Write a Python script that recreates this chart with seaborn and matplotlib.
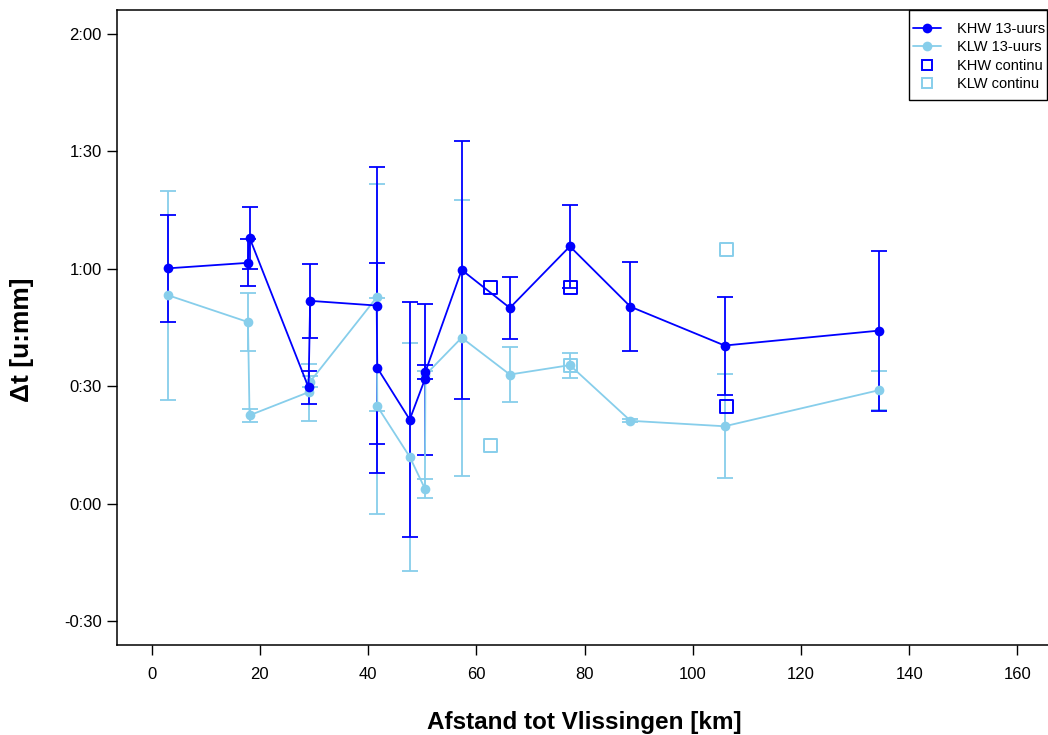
import matplotlib
matplotlib.use("Agg")
import matplotlib.pyplot as plt
from matplotlib import font_manager
from matplotlib.lines import Line2D
from matplotlib.patches import Rectangle
import seaborn as sns
import pandas as pd

# ---------------- data (minutes, km) ----------------
afstand = [3.1, 17.8, 18.1, 29.0, 29.3, 41.6, 41.7, 47.7, 50.5, 50.6,
           57.3, 66.2, 77.3, 88.5, 105.9, 134.4]
khw_13 = [60.1, 61.5, 67.9, 29.7, 51.8, 50.6, 34.7, 21.5, 31.8, 33.7,
          59.7, 50.0, 65.7, 50.3, 40.4, 44.2]
khw_13_err = [13.6, 6.0, 7.9, 4.3, 9.5, 35.3, 26.8, 30.0, 19.3, 1.8,
              33.0, 8.0, 10.6, 11.4, 12.5, 20.4]
klw_13 = [53.2, 46.4, 22.6, 28.5, 31.2, 52.7, 24.9, 12.0, 3.9, 32.9,
          42.4, 33.0, 35.4, 21.2, 19.8, 29.0]
klw_13_err = [26.6, 7.4, 1.7, 7.3, 1.5, 29.0, 27.5, 29.0, 2.5, 1.0,
              35.2, 6.9, 3.2, 0.4, 13.3, 5.0]

afstand_continu = [62.7, 77.4, 106.3]
khw_continu = [55.1, 55.1, 24.8]
klw_continu = [14.9, 35.3, 65.0]

y_ticks = [-30, 0, 30, 60, 90, 120]
x_ticks = [0, 20, 40, 60, 80, 100, 120, 140, 160]
legend_labels = ["KHW 13-uurs", "KLW 13-uurs", "KHW continu", "KLW continu"]

DARK = "#0000FF"
LIGHT = "#87CEEB"

# ---------------- style ----------------
sns.set_style("ticks")
avail = {f.name for f in font_manager.fontManager.ttflist}
base_font = "Liberation Sans" if "Liberation Sans" in avail else "DejaVu Sans"
plt.rcParams["font.family"] = [base_font, "DejaVu Sans"]
plt.rcParams.update({"text.color": "black", "axes.labelcolor": "black",
                     "xtick.color": "black", "ytick.color": "black",
                     "axes.edgecolor": "black"})

W, H = 1048, 735
fig = plt.figure(figsize=(W / 100, H / 100), dpi=100)
ax_left, ax_right, ax_top, ax_bottom = 117, 1052, 10, 645
ax = fig.add_axes([ax_left / W, 1 - ax_bottom / H,
                   (ax_right - ax_left) / W, (ax_bottom - ax_top) / H])

df13 = pd.DataFrame({"afstand": afstand, "KHW": khw_13, "KHW_err": khw_13_err,
                     "KLW": klw_13, "KLW_err": klw_13_err})
dfc = pd.DataFrame({"afstand": afstand_continu, "KHW": khw_continu, "KLW": klw_continu})

# error bars
ax.errorbar(df13["afstand"], df13["KLW"], yerr=df13["KLW_err"], fmt="none",
            ecolor=LIGHT, elinewidth=1.3, capsize=5.5, capthick=1.3, zorder=2)
ax.errorbar(df13["afstand"], df13["KHW"], yerr=df13["KHW_err"], fmt="none",
            ecolor=DARK, elinewidth=1.3, capsize=5.5, capthick=1.3, zorder=3)

# lines with points
sns.lineplot(data=df13, x="afstand", y="KLW", sort=False, estimator=None,
             color=LIGHT, lw=1.3, marker="o", markersize=7, markeredgewidth=0,
             ax=ax, zorder=4)
sns.lineplot(data=df13, x="afstand", y="KHW", sort=False, estimator=None,
             color=DARK, lw=1.3, marker="o", markersize=7, markeredgewidth=0,
             ax=ax, zorder=5)

# continuous squares
sns.scatterplot(data=dfc, x="afstand", y="KHW", marker="s", s=90,
                facecolor="none", edgecolor=DARK, linewidth=1.4, ax=ax, zorder=6)
sns.scatterplot(data=dfc, x="afstand", y="KLW", marker="s", s=90,
                facecolor="none", edgecolor=LIGHT, linewidth=1.4, ax=ax, zorder=6)

# axes
ax.set_xlim(-6.4, 166.4)
ax.set_ylim(-36, 126)
ax.set_xticks(x_ticks)
ax.set_xticklabels([str(v) for v in x_ticks])


def fmt(v):
    sign = "-" if v < 0 else ""
    v = abs(v)
    return f"{sign}{v // 60}:{v % 60:02d}"


ax.set_yticks(y_ticks)
ax.set_yticklabels([fmt(v) for v in y_ticks])
ax.tick_params(axis="both", length=7.5, width=1.0, color="black",
               labelcolor="black", labelsize=12, direction="out")
ax.tick_params(axis="y", pad=3.5)
ax.tick_params(axis="x", pad=8)
for sp in ax.spines.values():
    sp.set_linewidth(1.1)
    sp.set_color("black")

ax.set_xlabel("")
ax.set_ylabel("")
fig.text(584 / W, 1 - 722 / H, "Afstand tot Vlissingen [km]",
         ha="center", va="center", fontsize=17.5, fontweight="bold", color="black")
fig.text(22 / W, 1 - 340 / H, "\u0394t [u:mm]",
         ha="center", va="center", rotation=90, fontsize=19, fontweight="bold",
         color="black")

# legend (box drawn separately to match the reference's tight frame)
handles = [
    Line2D([], [], color=DARK, lw=1.3, marker="o", markersize=7, markeredgewidth=0),
    Line2D([], [], color=LIGHT, lw=1.3, marker="o", markersize=7, markeredgewidth=0),
    Line2D([], [], color=DARK, lw=0, marker="s", markersize=7.5,
           markerfacecolor="none", markeredgewidth=1.4),
    Line2D([], [], color=LIGHT, lw=0, marker="s", markersize=7.5,
           markerfacecolor="none", markeredgewidth=1.4),
]
fig.patches.append(Rectangle((909 / W, 1 - 100 / H), (1047 - 909) / W, 90 / H,
                             transform=fig.transFigure, facecolor="white",
                             edgecolor="black", linewidth=1.0, zorder=10))
leg = fig.legend(handles, legend_labels,
                 loc="upper left", bbox_to_anchor=(913 / W, 1 - 22 / H),
                 bbox_transform=fig.transFigure, fontsize=10.5, frameon=False,
                 handlelength=1.92, handletextpad=1.1, labelspacing=0.3,
                 borderpad=0, borderaxespad=0)
leg.set_zorder(11)

fig.savefig("out.png", dpi=100)
